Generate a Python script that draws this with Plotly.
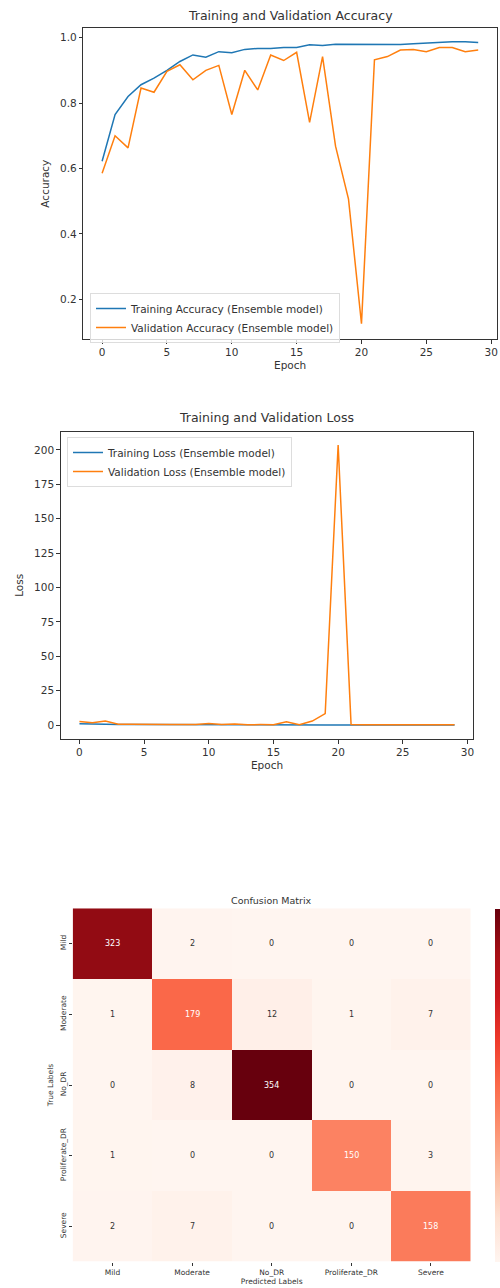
import plotly.graph_objects as go

epochs = list(range(30))
train_acc = [0.622, 0.765, 0.82, 0.856, 0.876, 0.90, 0.927, 0.947, 0.94, 0.957,
             0.954, 0.964, 0.967, 0.967, 0.97, 0.97, 0.978, 0.976, 0.98, 0.98,
             0.98, 0.979, 0.978, 0.979, 0.981, 0.983, 0.987, 0.987, 0.987, 0.985]
val_acc = [0.585, 0.70, 0.663, 0.846, 0.833, 0.897, 0.917, 0.871, 0.90, 0.915,
           0.765, 0.90, 0.84, 0.947, 0.93, 0.955, 0.741, 0.942, 0.668, 0.506,
           0.125, 0.932, 0.942, 0.962, 0.964, 0.957, 0.97, 0.97, 0.957, 0.962]
train_loss = [0.95, 0.6, 0.45, 0.38, 0.3, 0.25, 0.2, 0.16, 0.17, 0.13,
              0.14, 0.11, 0.1, 0.1, 0.09, 0.09, 0.07, 0.08, 0.06, 0.06,
              0.06, 0.07, 0.07, 0.06, 0.06, 0.05, 0.04, 0.04, 0.04, 0.05]
val_loss = [2.6, 1.6, 2.9, 0.6, 0.55, 0.35, 0.3, 0.45, 0.35, 0.3,
            1.2, 0.35, 0.8, 0.2, 0.3, 0.2, 2.3, 0.25, 2.9, 8.3,
            203.5, 0.3, 0.25, 0.15, 0.15, 0.18, 0.12, 0.12, 0.16, 0.15]

classes = ["Mild", "Moderate", "No_DR", "Proliferate_DR", "Severe"]
cm = [[323, 2, 0, 0, 0],
      [1, 179, 12, 1, 7],
      [0, 8, 354, 0, 0],
      [1, 0, 0, 150, 3],
      [2, 7, 0, 0, 158]]

reds = ["#fff5f0", "#fee0d2", "#fcbba1", "#fc9272", "#fb6a4a",
        "#ef3b2c", "#cb181d", "#a50f15", "#67000d"]
colorscale = [[i / (len(reds) - 1), c] for i, c in enumerate(reds)]

BLUE = "#1f77b4"
ORANGE = "#ff7f0e"
FONT = "DejaVu Sans"
TXT = "#333333"
H = 1288.0
W = 500.0

def py(px):
    return 1 - px / H

def pxx(px):
    return px / W

fig = go.Figure()

fig.add_trace(go.Scatter(x=epochs, y=train_acc, mode="lines", name="Training Accuracy (Ensemble model)",
                         line=dict(color=BLUE, width=1.5), xaxis="x", yaxis="y", legend="legend"))
fig.add_trace(go.Scatter(x=epochs, y=val_acc, mode="lines", name="Validation Accuracy (Ensemble model)",
                         line=dict(color=ORANGE, width=1.5), xaxis="x", yaxis="y", legend="legend"))
fig.add_trace(go.Scatter(x=epochs, y=train_loss, mode="lines", name="Training Loss (Ensemble model)",
                         line=dict(color=BLUE, width=1.5), xaxis="x2", yaxis="y2", legend="legend2"))
fig.add_trace(go.Scatter(x=epochs, y=val_loss, mode="lines", name="Validation Loss (Ensemble model)",
                         line=dict(color=ORANGE, width=1.5), xaxis="x2", yaxis="y2", legend="legend2"))

text_colors = [["white" if v >= 140 else TXT for v in row] for row in cm]
fig.add_trace(go.Heatmap(z=cm, x=classes, y=classes, colorscale=colorscale, zmin=0, zmax=354,
                         xaxis="x3", yaxis="y3", showscale=True, showlegend=False,
                         colorbar=dict(x=pxx(495), xanchor="left", y=py(1261.7), yanchor="bottom",
                                       len=(1261.7 - 908.3) / H, lenmode="fraction",
                                       thickness=5, thicknessmode="pixels", xpad=0, ypad=0,
                                       outlinewidth=0, showticklabels=False, ticks="")))

for i, row in enumerate(cm):
    for j, v in enumerate(row):
        fig.add_annotation(x=classes[j], y=classes[i], xref="x3", yref="y3", text=str(v),
                           showarrow=False, font=dict(family=FONT, size=8, color=text_colors[i][j]))

axis_common = dict(showline=True, linecolor=TXT, linewidth=1, mirror=True, ticks="outside",
                   ticklen=3.5, tickcolor=TXT, showgrid=False, zeroline=False,
                   tickfont=dict(family=FONT, size=10.5, color=TXT))

fig.update_layout(
    width=500, height=1288, margin=dict(l=0, r=0, t=0, b=0), autosize=False,
    paper_bgcolor="white", plot_bgcolor="white",
    font=dict(family=FONT, color=TXT),
    xaxis=dict(domain=[pxx(83.3), pxx(497)], anchor="y", range=[-1.45, 30.45],
               tickvals=[0, 5, 10, 15, 20, 25, 30],
               title=dict(text="Epoch", font=dict(family=FONT, size=10.5, color=TXT), standoff=4),
               **axis_common),
    yaxis=dict(domain=[py(339), py(28.3)], anchor="x", range=[0.0785, 1.0285],
               tickvals=[0.2, 0.4, 0.6, 0.8, 1.0], ticktext=["0.2", "0.4", "0.6", "0.8", "1.0"],
               title=dict(text="Accuracy", font=dict(family=FONT, size=10.5, color=TXT), standoff=8),
               **axis_common),
    xaxis2=dict(domain=[pxx(60.7), pxx(473.3)], anchor="y2", range=[-1.45, 30.45],
                tickvals=[0, 5, 10, 15, 20, 25, 30],
                title=dict(text="Epoch", font=dict(family=FONT, size=10.5, color=TXT), standoff=4),
                **axis_common),
    yaxis2=dict(domain=[py(739), py(431.7)], anchor="x2", range=[-10.15, 213.2],
                tickvals=[0, 25, 50, 75, 100, 125, 150, 175, 200],
                title=dict(text="Loss", font=dict(family=FONT, size=10.5, color=TXT), standoff=8),
                **axis_common),
    xaxis3=dict(domain=[pxx(72.7), pxx(470.7)], anchor="y3", showline=False, showgrid=False,
                zeroline=False, ticks="outside", ticklen=3, tickcolor=TXT,
                tickfont=dict(family=FONT, size=7.5, color=TXT),
                title=dict(text="Predicted Labels", font=dict(family=FONT, size=7.5, color=TXT), standoff=1)),
    yaxis3=dict(domain=[py(1261.7), py(908.3)], anchor="x3", autorange="reversed", showline=False,
                showgrid=False, zeroline=False, ticks="outside", ticklen=3, tickcolor=TXT,
                tickangle=-90, tickfont=dict(family=FONT, size=7.5, color=TXT),
                title=dict(text="True Labels", font=dict(family=FONT, size=7.5, color=TXT), standoff=4)),
    legend=dict(x=pxx(90), y=py(293), xanchor="left", yanchor="top", bgcolor="rgba(255,255,255,0.8)",
                bordercolor="#dddddd", borderwidth=1, font=dict(family=FONT, size=10.5, color=TXT),
                tracegroupgap=0, itemwidth=30),
    legend2=dict(x=pxx(67), y=py(437), xanchor="left", yanchor="top", bgcolor="rgba(255,255,255,0.8)",
                 bordercolor="#dddddd", borderwidth=1, font=dict(family=FONT, size=10.5, color=TXT),
                 tracegroupgap=0, itemwidth=30),
)

fig.add_annotation(text="Training and Validation Accuracy", x=pxx(290), y=py(15), xref="paper", yref="paper",
                   showarrow=False, font=dict(family=FONT, size=12.5, color=TXT), xanchor="center", yanchor="middle")
fig.add_annotation(text="Training and Validation Loss", x=pxx(266), y=py(418), xref="paper", yref="paper",
                   showarrow=False, font=dict(family=FONT, size=12.5, color=TXT), xanchor="center", yanchor="middle")
fig.add_annotation(text="Confusion Matrix", x=pxx(271), y=py(900), xref="paper", yref="paper",
                   showarrow=False, font=dict(family=FONT, size=9.5, color=TXT), xanchor="center", yanchor="middle")

fig.write_html("out.html", config={"responsive": False, "displayModeBar": False},
               post_script="document.body.style.margin='0';document.body.style.padding='0';"
                           "document.documentElement.style.overflow='hidden';document.body.style.overflow='hidden';")
